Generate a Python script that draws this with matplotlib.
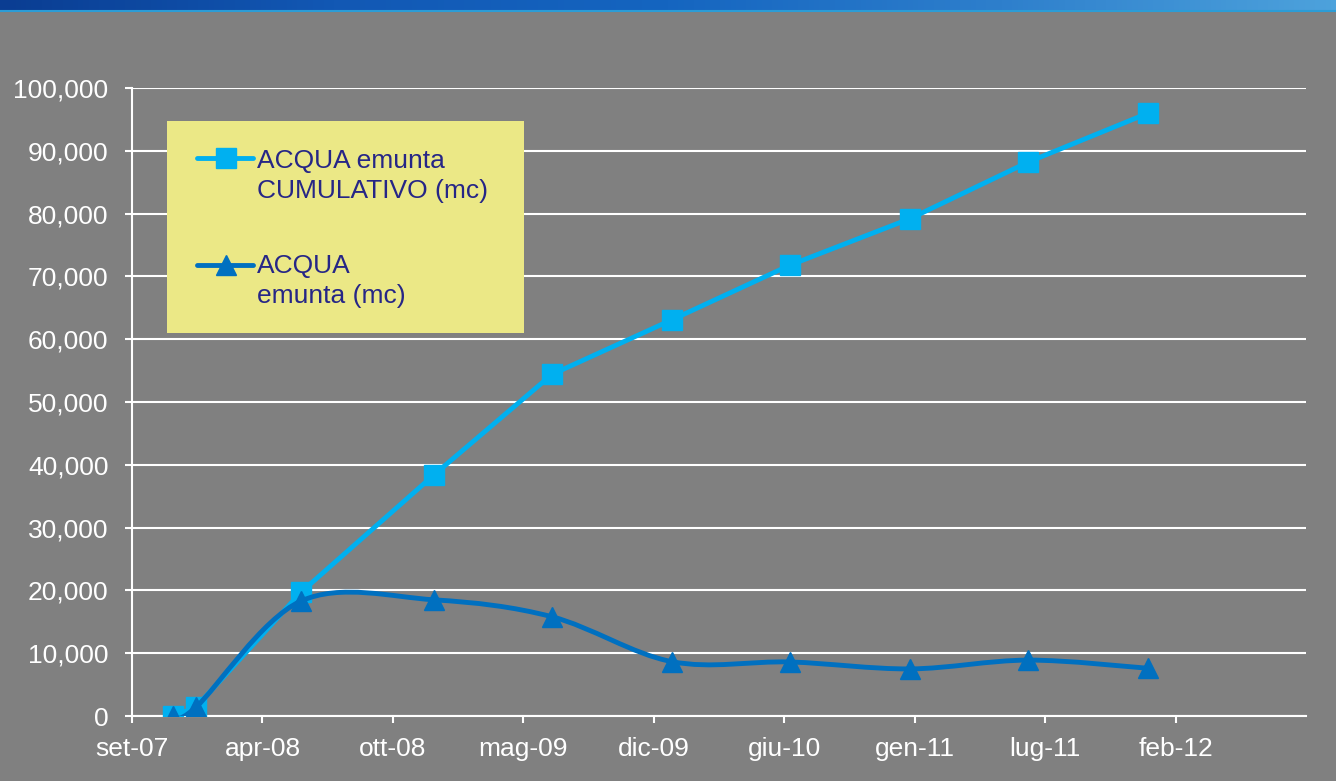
import numpy as np
import pandas as pd
import matplotlib
matplotlib.use('Agg')
import matplotlib.pyplot as plt
import matplotlib.dates as mdates
from matplotlib.path import Path
from matplotlib.patches import PathPatch, Rectangle
from matplotlib.lines import Line2D
from matplotlib.colors import LinearSegmentedColormap
from matplotlib.ticker import FuncFormatter

plt.rcParams['font.family'] = ['Liberation Sans', 'DejaVu Sans']

# dati
date_rilievo = ['2007-11-27', '2008-01-01', '2008-06-10', '2008-12-31', '2009-06-30',
                '2009-12-31', '2010-06-30', '2010-12-31', '2011-06-30', '2011-12-31']
acqua_cumulativo = [0, 1400, 19700, 38400, 54400, 63100, 71800, 79200, 88200, 96000]
acqua_emunta = [0, 1400, 18300, 18500, 15800, 8650, 8600, 7500, 8900, 7600]

mesi = ['gen', 'feb', 'mar', 'apr', 'mag', 'giu', 'lug', 'ago', 'set', 'ott', 'nov', 'dic']
inizio_asse = '2007-09-25'
passo_giorni = 200
n_passi = 9

W, H = 1336, 781
GRIGIO = '#808080'
AZZURRO = '#00B0F0'
BLU = '#0070C0'
TESTO_LEG = '#262686'
FS = 19
LW = 3.5


def fx(px):
    return px / W


def fy(py):
    return 1 - py / H


def curva_liscia(x, y):
    # curva di bezier tipo "linea smussata" di Excel
    x = np.asarray(x, float)
    y = np.asarray(y, float)
    xp = np.concatenate([[x[0]], x, [x[-1]]])
    yp = np.concatenate([[y[0]], y, [y[-1]]])
    verts = [(x[0], y[0])]
    codes = [Path.MOVETO]
    for i in range(len(x) - 1):
        c1 = (x[i] + (xp[i + 2] - xp[i]) / 6, y[i] + (yp[i + 2] - yp[i]) / 6)
        c2 = (x[i + 1] - (xp[i + 3] - xp[i + 1]) / 6, y[i + 1] - (yp[i + 3] - yp[i + 1]) / 6)
        verts += [c1, c2, (x[i + 1], y[i + 1])]
        codes += [Path.CURVE4] * 3
    return Path(verts, codes)


x = mdates.date2num(pd.to_datetime(date_rilievo))
x0 = mdates.date2num(pd.Timestamp(inizio_asse))

fig = plt.figure(figsize=(W / 100, H / 100), dpi=100, facecolor=GRIGIO)
ax = fig.add_axes([fx(132), fy(716), (1306 - 132) / W, (716 - 88) / H])
ax.set_facecolor(GRIGIO)

# serie cumulativa (linea spezzata)
ax.plot(x, acqua_cumulativo, color=AZZURRO, lw=LW, marker='s', ms=14,
        solid_joinstyle='round', solid_capstyle='round', zorder=3)

# serie mensile (linea smussata)
ax.add_patch(PathPatch(curva_liscia(x, acqua_emunta), fill=False, edgecolor=BLU, lw=LW,
                       joinstyle='round', capstyle='round', zorder=4))
ax.plot(x, acqua_emunta, ls='none', marker='^', ms=15, color=BLU, zorder=5)

ax.set_xlim(x0, x0 + passo_giorni * n_passi)
ax.set_ylim(0, 100000)
ax.set_yticks(np.arange(0, 100001, 10000))
ax.set_xticks([x0 + passo_giorni * k for k in range(n_passi)])


def etichetta_data(v, pos):
    d = mdates.num2date(v)
    return f'{mesi[d.month - 1]}-{d.year % 100:02d}'


ax.xaxis.set_major_formatter(FuncFormatter(etichetta_data))
ax.yaxis.set_major_formatter(FuncFormatter(lambda v, p: f'{int(v):,}'))

ax.yaxis.grid(True, color='white', lw=1.5)
ax.set_axisbelow(True)
for s in ['top', 'right']:
    ax.spines[s].set_visible(False)
for s in ['left', 'bottom']:
    ax.spines[s].set_color('white')
    ax.spines[s].set_linewidth(1.5)
ax.tick_params(axis='both', colors='white', direction='out', length=5, width=1.5, labelsize=FS)
ax.tick_params(axis='y', pad=12)
ax.tick_params(axis='x', pad=10)

# fascia blu in alto
bax = fig.add_axes([0, fy(10), 1, 10 / H])
cmap = LinearSegmentedColormap.from_list('banda', ['#0A3D92', '#1258B4', '#1565C0', '#2E7FCC', '#4DA2DC'])
bax.imshow(np.linspace(0, 1, 256)[None, :], aspect='auto', cmap=cmap, extent=[0, 1, 0, 1])
bax.axis('off')
fig.add_artist(Line2D([0, 1], [fy(11), fy(11)], transform=fig.transFigure, color='#2B9CD6', lw=1.5))

# legenda disegnata a mano (simbolo allineato alla prima riga)
fig.add_artist(Rectangle((fx(167), fy(333)), (524 - 167) / W, (333 - 121) / H,
                         transform=fig.transFigure, facecolor='#EBE886', edgecolor='none'))
voci = [(AZZURRO, 's', 14, 158, ['ACQUA emunta', 'CUMULATIVO (mc)'], 168),
        (BLU, '^', 15, 265, ['ACQUA', 'emunta (mc)'], 273)]
for col, mk, ms, ly, righe, base in voci:
    fig.add_artist(Line2D([fx(197), fx(253)], [fy(ly), fy(ly)], transform=fig.transFigure,
                          color=col, lw=LW, solid_capstyle='round'))
    fig.add_artist(Line2D([fx(226)], [fy(ly)], transform=fig.transFigure,
                          color=col, marker=mk, ms=ms, ls='none'))
    for j, r in enumerate(righe):
        fig.text(fx(257), fy(base + 30 * j), r, color=TESTO_LEG, fontsize=FS, va='baseline')

fig.savefig('out.png', dpi=100, facecolor=GRIGIO)
